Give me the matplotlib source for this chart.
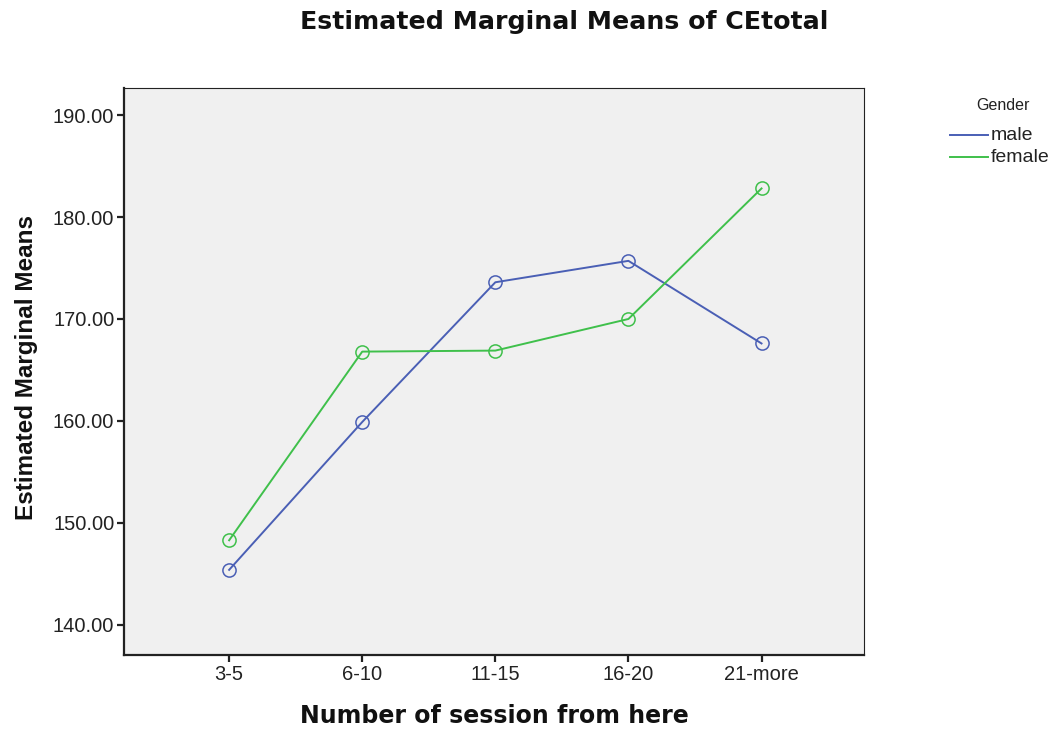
import matplotlib
matplotlib.use("Agg")
import matplotlib.pyplot as plt
from matplotlib.lines import Line2D

categories = ["3-5", "6-10", "11-15", "16-20", "21-more"]
male = [145.4, 159.9, 173.6, 175.7, 167.6]
female = [148.3, 166.8, 166.9, 170.0, 182.8]
yticks = [140, 150, 160, 170, 180, 190]
series_names = ["male", "female"]

plt.rcParams['font.family'] = ['Liberation Sans', 'DejaVu Sans']

W, H = 1062, 729
fig = plt.figure(figsize=(W/100, H/100), dpi=100)
ax = fig.add_axes([124/W, 1-655/H, (864-124)/W, (655-88)/H])
ax.set_facecolor('#f0f0f0')

x = list(range(len(categories)))
blue = '#4a5fb5'
green = '#3fc04b'
ax.plot(x, male, color=blue, lw=1.4, marker='o', ms=9.5, mfc='none', mec=blue, mew=1.1)
ax.plot(x, female, color=green, lw=1.4, marker='o', ms=9.5, mfc='none', mec=green, mew=1.1)

ax.set_xlim(-0.79, 4.77)
ax.set_ylim(137.05, 192.65)
ax.set_xticks(x)
ax.set_xticklabels(categories, fontsize=14.5)
ax.set_yticks(yticks)
ax.set_yticklabels([f"{v:.2f}" for v in yticks], fontsize=14.5)
for s in ax.spines.values():
    s.set_color('#222222')
    s.set_linewidth(0.8)
ax.spines['left'].set_linewidth(1.6)
ax.spines['bottom'].set_linewidth(1.6)
ax.tick_params(axis='both', length=5, width=1.6, color='#222222', labelcolor='#222222', pad=2)

fig.text(564/W, 1-22/H, "Estimated Marginal Means of CEtotal", ha='center', va='center',
         fontsize=18.2, fontweight='bold', color='#111111', family='DejaVu Sans')
fig.text(494/W, 1-716/H, "Number of session from here", ha='center', va='center',
         fontsize=17, fontweight='bold', color='#111111', family='DejaVu Sans')
fig.text(27/W, 1-368/H, "Estimated Marginal Means", ha='center', va='center', rotation=90,
         fontsize=17.5, fontweight='bold', color='#111111')

# legend drawn manually
fig.text(1003/W, 1-105/H, "Gender", ha='center', va='center', fontsize=11.5, color='#222222')
for name, col, yy in zip(series_names, [blue, green], [135, 157]):
    fig.add_artist(Line2D([950/W, 988/W], [1-yy/H, 1-yy/H], color=col, lw=1.4,
                          transform=fig.transFigure))
    fig.text(991/W, 1-yy/H, name, ha='left', va='center', fontsize=14, color='#222222')

fig.savefig("out.png", dpi=100)
